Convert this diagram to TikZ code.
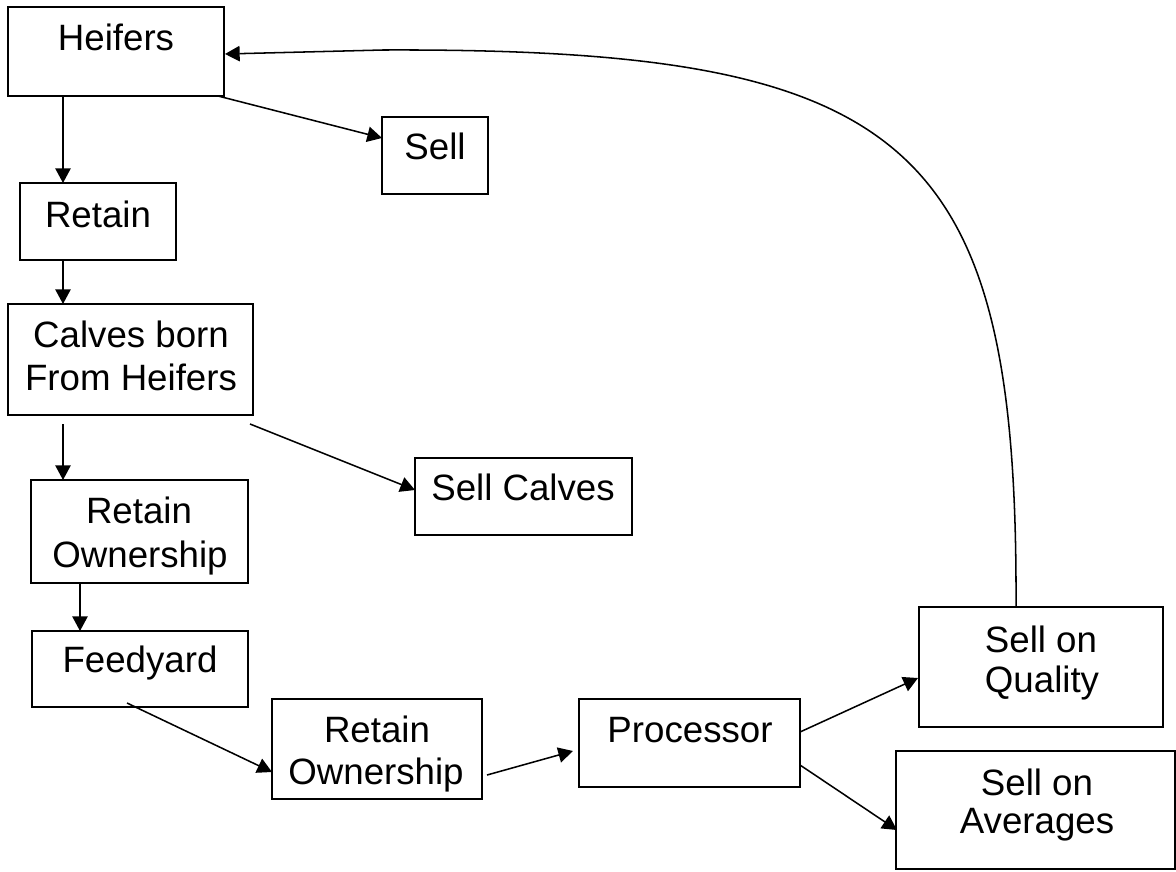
\documentclass[tikz,border=0pt]{standalone}
\usepackage{fontspec}
\setmainfont{Liberation Sans}
\usetikzlibrary{arrows.meta,calc,fit}
\begin{document}
\begin{tikzpicture}[x=0.75pt,y=-0.75pt,
  box/.style={draw=black,line width=1.5pt,inner sep=0pt,outer sep=0pt},
  lbl/.style={anchor=base,inner sep=0pt,font=\fontsize{27.5pt}{33pt}\selectfont},
  conn/.style={draw=black,line width=1.15pt,-{Triangle[length=11pt,width=11.5pt]}}]
\useasboundingbox (0,0) rectangle (1176,871);
% boxes
\node[box,fit={(8,7)(224,96)}] (heifers) {};
\node[box,fit={(382,117)(488,194)}] (sell) {};
\node[box,fit={(20,183)(176,260)}] (retain) {};
\node[box,fit={(8,304)(253,415)}] (calves) {};
\node[box,fit={(415,458)(632,535)}] (sellcalves) {};
\node[box,fit={(31,480)(248,583)}] (ro1) {};
\node[box,fit={(32,631)(248,707)}] (feedyard) {};
\node[box,fit={(272,699)(482,799)}] (ro2) {};
\node[box,fit={(579,699)(800,787)}] (processor) {};
\node[box,fit={(919,607)(1163,727)}] (quality) {};
\node[box,fit={(896,751)(1175,869)}] (averages) {};
% labels
\node[lbl] (tHeifers) at (116,50) {Heifers};
\node[lbl] (tSell) at (435,159) {Sell};
\node[lbl] (tRetain) at (98,227) {Retain};
\node[lbl] (tCalvesA) at (131,347) {Calves born};
\node[lbl] (tCalvesB) at (131,390) {From Heifers};
\node[lbl] (tSellCalves) at (523,500) {Sell Calves};
\node[lbl] (tRoA) at (139,523) {Retain};
\node[lbl] (tRoB) at (140,567) {Ownership};
\node[lbl] (tFeedyard) at (140,672) {Feedyard};
\node[lbl] (tRoC) at (377,742) {Retain};
\node[lbl] (tRoD) at (376,784) {Ownership};
\node[lbl] (tProcessor) at (690,742) {Processor};
\node[lbl] (tQualA) at (1041,652) {Sell on};
\node[lbl] (tQualB) at (1042,692) {Quality};
\node[lbl] (tAvgA) at (1037,795) {Sell on};
\node[lbl] (tAvgB) at (1037,833) {Averages};
% connectors
\draw[conn] ($(heifers.south west)+(55,0)$) -- ($(retain.north west)+(43,0)$);
\draw[conn] ($(heifers.south east)+(-6,0)$) -- ($(sell.north west)+(0,21)$);
\draw[conn] ($(retain.south west)+(43,0)$) -- ($(calves.north west)+(55,0)$);
\draw[conn] ($(calves.south west)+(55,9)$) -- ($(ro1.north west)+(32,0)$);
\draw[conn] ($(calves.south east)+(-3,9)$) -- ($(sellcalves.north west)+(0,32)$);
\draw[conn] ($(ro1.south west)+(49,0)$) -- ($(feedyard.north west)+(48,0)$);
\draw[conn] ($(feedyard.south west)+(95,-4)$) -- ($(ro2.north west)+(0,73)$);
\draw[conn] ($(ro2.south east)+(5,-24)$) -- ($(processor.north west)+(-6,52)$);
\draw[conn] ($(processor.north east)+(0,33)$) -- ($(quality.north west)+(-1,71)$);
\draw[conn] ($(processor.north east)+(0,66)$) -- ($(averages.north west)+(1,79)$);
\coordinate (bend) at (383,50);
\draw[conn] ($(quality.north west)+(97,0)$) .. controls (1018,140) and (910,48) .. (bend) -- ($(heifers.north east)+(1,47)$);
\end{tikzpicture}
\end{document}
